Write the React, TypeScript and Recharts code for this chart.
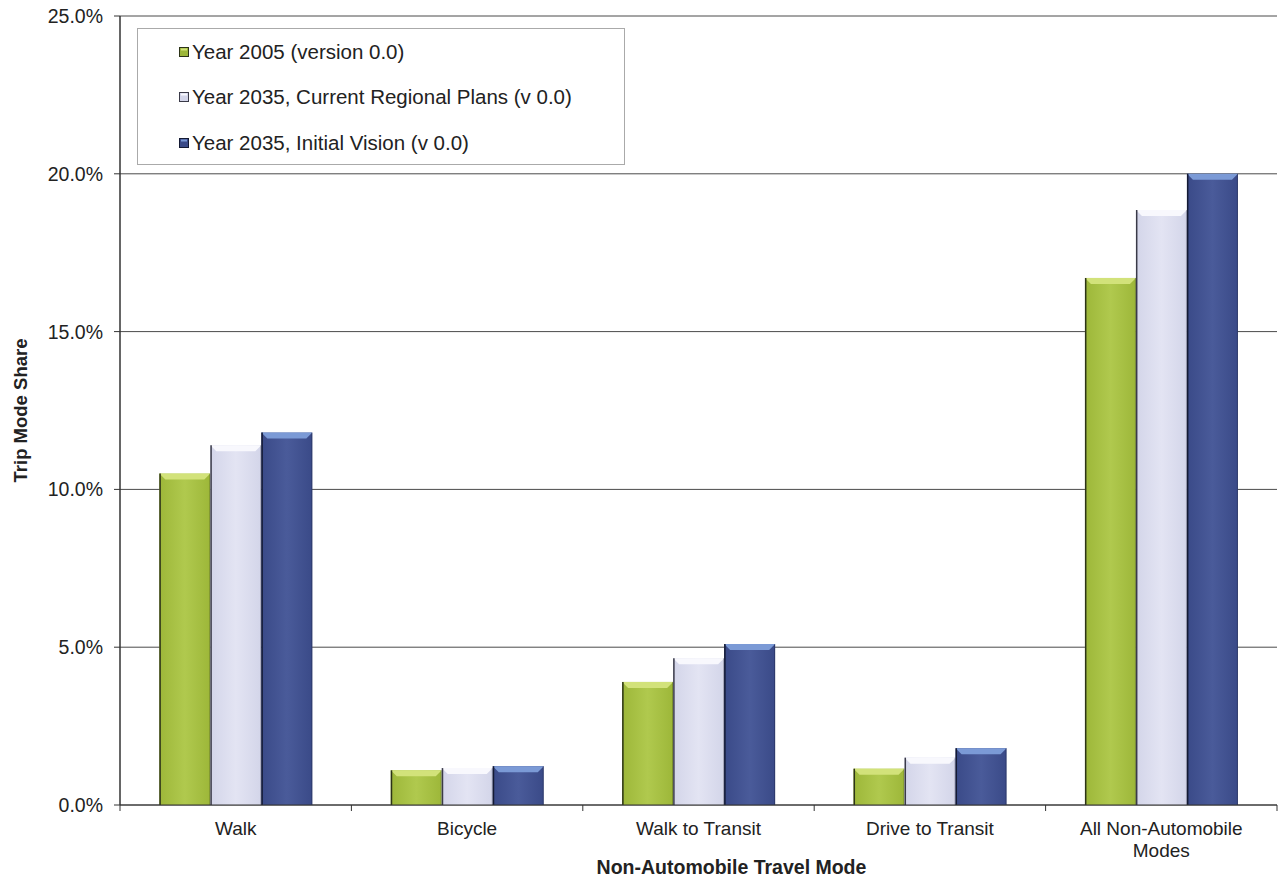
import React from 'react';
import { BarChart, Bar, XAxis, YAxis, CartesianGrid, Legend, Text } from 'recharts';

const categories = ['Walk', 'Bicycle', 'Walk to Transit', 'Drive to Transit', 'All Non-Automobile Modes'];
const year2005 = [10.5, 1.1, 3.9, 1.15, 16.7];
const year2035Current = [11.4, 1.17, 4.65, 1.5, 18.85];
const year2035Vision = [11.8, 1.23, 5.1, 1.8, 20.0];
const yTicks = [0, 5, 10, 15, 20, 25];

const seriesNames = [
  'Year 2005 (version 0.0)',
  'Year 2035, Current Regional Plans (v 0.0)',
  'Year 2035, Initial Vision (v 0.0)',
];

const data = categories.map((c, i) => ({
  category: c,
  y2005: year2005[i],
  y2035c: year2035Current[i],
  y2035v: year2035Vision[i],
}));

const FONT = '"Liberation Sans", Arial, Helvetica, sans-serif';

const palettes: Record<string, { body: string; light: string; top: string; edge: string }> = {
  green: { body: '#9db739', light: '#b0c94e', top: '#d2e27a', edge: '#2c3318' },
  lav: { body: '#d3d5e9', light: '#e3e4f3', top: '#f8f8fd', edge: '#3a3a48' },
  navy: { body: '#3a4a88', light: '#4a5b9a', top: '#7b9ad6', edge: '#141a33' },
};

const makeShape = (key: string) => (props: any) => {
  const { x, y, width, height } = props;
  if (!height || height <= 0) return null;
  const p = palettes[key];
  const b = Math.min(6, height / 2);
  return (
    <g>
      <rect x={x} y={y} width={width} height={height} fill={`url(#grad-${key})`} />
      <polygon
        points={`${x},${y} ${x + width},${y} ${x + width - b},${y + b} ${x + b},${y + b}`}
        fill={p.top}
      />
      <line x1={x + 0.75} y1={y} x2={x + 0.75} y2={y + height} stroke={p.edge} strokeWidth={1.5} />
      <line x1={x + width - 0.5} y1={y} x2={x + width - 0.5} y2={y + height} stroke={p.edge} strokeOpacity={0.35} strokeWidth={1} />
    </g>
  );
};

const tickTextStyle = { fontSize: 19, fontFamily: FONT };

const XTick = (props: any) => {
  const { x, y, payload, width, index } = props;
  const band = width / categories.length;
  const left = x - band / 2;
  return (
    <g>
      <line x1={left} y1={y - 8} x2={left} y2={y - 2} stroke="#333" strokeWidth={1} />
      {index === categories.length - 1 && (
        <line x1={x + band / 2} y1={y - 8} x2={x + band / 2} y2={y - 2} stroke="#333" strokeWidth={1} />
      )}
      <Text
        x={x}
        y={y + 9}
        width={180}
        lineHeight={22}
        textAnchor="middle"
        verticalAnchor="start"
        fontSize={19}
        fontFamily={FONT}
        style={tickTextStyle}
        fill="#222"
      >
        {payload.value}
      </Text>
    </g>
  );
};

const renderYLabel = (props: any) => {
  const vb = props.viewBox || {};
  const cy = vb.y + vb.height / 2;
  return (
    <text
      x={20}
      y={cy}
      transform={`rotate(-90, 20, ${cy})`}
      textAnchor="middle"
      dominantBaseline="central"
      fontSize={18.5}
      fontWeight="bold"
      fontFamily={FONT}
      fill="#222"
    >
      Trip Mode Share
    </text>
  );
};

const renderXLabel = (props: any) => {
  const vb = props.viewBox || {};
  const cx = vb.x + vb.width / 2 + 33;
  return (
    <text
      x={cx}
      y={867}
      textAnchor="middle"
      dominantBaseline="central"
      fontSize={19.5}
      fontWeight="bold"
      fontFamily={FONT}
      fill="#222"
    >
      Non-Automobile Travel Mode
    </text>
  );
};

const legendKeys = ['green', 'lav', 'navy'];

const renderLegend = () => (
  <div
    style={{
      width: 488,
      height: 137,
      border: '1px solid #aaa',
      boxSizing: 'border-box',
      background: '#fff',
      fontFamily: FONT,
      fontSize: 20.5,
      color: '#222',
      paddingTop: 0,
      paddingLeft: 41,
    }}
  >
    {seriesNames.map((n, i) => (
      <div key={n} style={{ height: 45.5, display: 'flex', alignItems: 'center' }}>
        <svg width={10} height={10} style={{ marginRight: 3 }}>
          <rect x={0.5} y={0.5} width={9} height={9} fill={palettes[legendKeys[i]].body} stroke={palettes[legendKeys[i]].edge} strokeWidth={1} />
          <rect x={2} y={1.5} width={6} height={2} fill={palettes[legendKeys[i]].top} />
        </svg>
        <span>{n}</span>
      </div>
    ))}
  </div>
);

export default function App() {
  return (
    <div style={{ position: 'absolute', left: 0, top: 0, width: 1281, height: 880, background: '#fff' }}>
      <BarChart
        width={1281}
        height={880}
        data={data}
        margin={{ top: 16, right: 4, bottom: 0, left: 0 }}
        barCategoryGap="17%"
        barGap={0}
      >
        <defs>
          {legendKeys.map((k) => (
            <linearGradient key={k} id={`grad-${k}`} x1="0" y1="0" x2="1" y2="0">
              <stop offset="0%" stopColor={palettes[k].body} />
              <stop offset="50%" stopColor={palettes[k].light} />
              <stop offset="100%" stopColor={palettes[k].body} />
            </linearGradient>
          ))}
        </defs>
        <CartesianGrid vertical={false} stroke="#4a4a4a" strokeWidth={1} />
        <XAxis
          dataKey="category"
          height={75}
          tickLine={false}
          axisLine={{ stroke: '#333', strokeWidth: 1 }}
          tick={<XTick />}
          interval={0}
          label={{ content: renderXLabel }}
        />
        <YAxis
          width={120}
          domain={[0, 25]}
          ticks={yTicks}
          interval={0}
          tickFormatter={(v: number) => `${v.toFixed(1)}%`}
          tickSize={6}
          tickMargin={11}
          axisLine={{ stroke: '#333', strokeWidth: 1.5 }}
          tickLine={{ stroke: '#333' }}
          tick={{ fontSize: 19.5, fontFamily: FONT, fill: '#222' }}
          label={{ content: renderYLabel }}
        />
        <Legend
          layout="vertical"
          align="center"
          verticalAlign="middle"
          content={renderLegend}
          wrapperStyle={{ left: 137, top: 28, width: 488, height: 137 }}
        />
        <Bar dataKey="y2005" name={seriesNames[0]} fill={palettes.green.body} shape={makeShape('green')} isAnimationActive={false} />
        <Bar dataKey="y2035c" name={seriesNames[1]} fill={palettes.lav.body} shape={makeShape('lav')} isAnimationActive={false} />
        <Bar dataKey="y2035v" name={seriesNames[2]} fill={palettes.navy.body} shape={makeShape('navy')} isAnimationActive={false} />
      </BarChart>
    </div>
  );
}
